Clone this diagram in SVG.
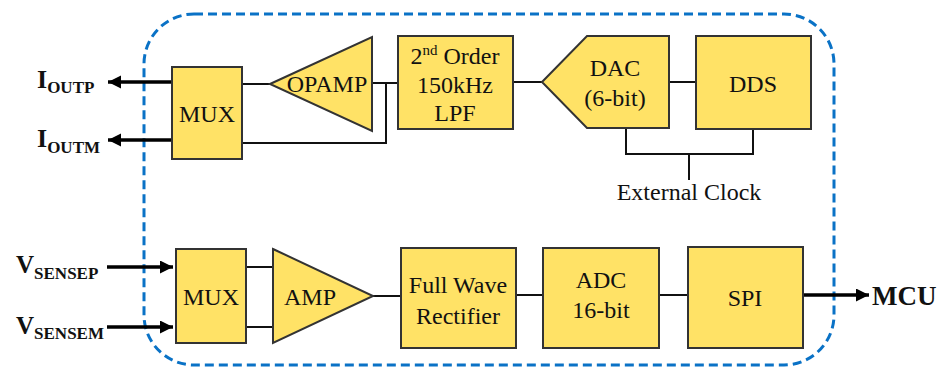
<svg xmlns="http://www.w3.org/2000/svg" width="940" height="367" viewBox="0 0 940 367">
<style>
.blk{fill:#FFE266;stroke:#333;stroke-width:2}
.t{font-size:24px;fill:#111;text-anchor:middle}
.lbl{font-weight:bold;fill:#111}
.w{fill:none;stroke:#111;stroke-width:2}
.th{fill:none;stroke:#000;stroke-width:3.5}
</style>
<defs>
<marker id="ah" markerUnits="userSpaceOnUse" markerWidth="14" markerHeight="14" refX="13" refY="6.5" orient="auto">
<path d="M0,0 L13,6.5 L0,13 z" fill="#000"/>
</marker>
</defs>
<rect x="144" y="14" width="690" height="351" rx="50" ry="50" fill="none" stroke="#0A72C6" stroke-width="3" stroke-dasharray="9,5"/>
<g id="connectors">
<path class="w" d="M242,84 H270"/>
<path class="w" d="M372,83 H398"/>
<path class="w" d="M386,83 V143 H242"/>
<path class="w" d="M513,82 H542"/>
<path class="w" d="M669,82 H696"/>
<path class="w" d="M626,128 V154 H753 V129"/>
<path class="w" d="M689,154 V180"/>
<path class="w" d="M246,267 H273"/>
<path class="w" d="M246,327 H273"/>
<path class="w" d="M373,296 H401"/>
<path class="w" d="M516,295 H543"/>
<path class="w" d="M659,295 H688"/>
<path class="th" d="M172,82 H108" marker-end="url(#ah)"/>
<path class="th" d="M172,140 H108" marker-end="url(#ah)"/>
<path class="th" d="M107,267 H173" marker-end="url(#ah)"/>
<path class="th" d="M107,327 H173" marker-end="url(#ah)"/>
<path class="th" d="M803,295 H869" marker-end="url(#ah)"/>
</g>
<g font-family="Liberation Serif, Times New Roman, serif">
<g id="mux1"><rect class="blk" x="172" y="67" width="70" height="92"/><text class="t" x="207" y="122">MUX</text></g>
<g id="opamp"><polygon class="blk" points="270,84 372,37 372,131"/><text class="t" x="327" y="92">OPAMP</text></g>
<g id="lpf"><rect class="blk" x="398" y="36" width="115" height="93"/>
<text class="t" x="455" y="64">2<tspan font-size="15" dy="-9">nd</tspan><tspan dy="9"> Order</tspan></text>
<text class="t" x="455" y="93">150kHz</text><text class="t" x="455" y="121">LPF</text></g>
<g id="dac"><polygon class="blk" points="542,82 587,36 669,36 669,128 587,128"/><text class="t" x="615" y="76">DAC</text><text class="t" x="615" y="106">(6-bit)</text></g>
<g id="dds"><rect class="blk" x="696" y="36" width="115" height="93"/><text class="t" x="753" y="92">DDS</text></g>
<g id="clock"><text class="t" x="689" y="200">External Clock</text></g>
<g id="mux2"><rect class="blk" x="176" y="249" width="70" height="94"/><text class="t" x="211" y="305">MUX</text></g>
<g id="amp"><polygon class="blk" points="273,249 373,296 273,343"/><text class="t" x="310" y="305">AMP</text></g>
<g id="rect"><rect class="blk" x="401" y="248" width="115" height="100"/><text class="t" x="458" y="293">Full Wave</text><text class="t" x="458" y="324">Rectifier</text></g>
<g id="adc"><rect class="blk" x="543" y="248" width="116" height="100"/><text class="t" x="601" y="288">ADC</text><text class="t" x="601" y="318">16-bit</text></g>
<g id="spi"><rect class="blk" x="688" y="247" width="115" height="101"/><text class="t" x="745" y="306">SPI</text></g>
<g id="ioutp"><text class="lbl" x="37" y="88" font-size="26">I<tspan font-size="17" dy="5">OUTP</tspan></text></g>
<g id="ioutm"><text class="lbl" x="37" y="147" font-size="26">I<tspan font-size="17" dy="6">OUTM</tspan></text></g>
<g id="vsensep"><text class="lbl" x="16" y="273" font-size="25">V<tspan font-size="17" dy="6">SENSEP</tspan></text></g>
<g id="vsensem"><text class="lbl" x="16" y="334" font-size="25">V<tspan font-size="17" dy="5">SENSEM</tspan></text></g>
<g id="mcu"><text class="lbl" x="872" y="305" font-size="27">MCU</text></g>
</g>
</svg>
